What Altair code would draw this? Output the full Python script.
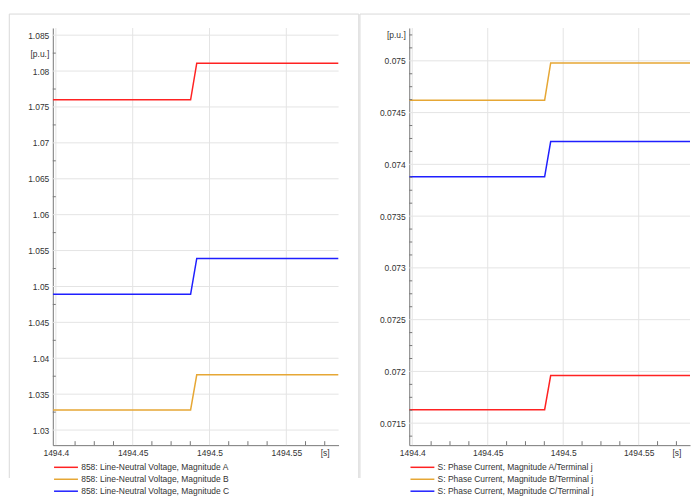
import altair as alt
import pandas as pd

# ---- data ----
time = [1494.398, 1494.4877, 1494.4917, 1494.584]

left_names = [
    "858: Line-Neutral Voltage, Magnitude A",
    "858: Line-Neutral Voltage, Magnitude B",
    "858: Line-Neutral Voltage, Magnitude C",
]
left_A = [1.0760, 1.0760, 1.0811, 1.0811]
left_B = [1.0328, 1.0328, 1.0377, 1.0377]
left_C = [1.0489, 1.0489, 1.0539, 1.0539]

right_names = [
    "S: Phase Current, Magnitude A/Terminal j",
    "S: Phase Current, Magnitude B/Terminal j",
    "S: Phase Current, Magnitude C/Terminal j",
]
right_A = [0.07163, 0.07163, 0.07196, 0.07196]
right_B = [0.07462, 0.07462, 0.07498, 0.07498]
right_C = [0.07388, 0.07388, 0.07422, 0.07422]

colors = ["#ff2222", "#e6a735", "#1f1fff"]

# axes
x_domain = [1494.398, 1494.584]
x_major = [1494.4, 1494.45, 1494.5, 1494.55]
x_unit = 1494.575
x_minor = [1494.4125, 1494.425, 1494.4375, 1494.4625, 1494.475, 1494.4875,
           1494.5125, 1494.525, 1494.5375, 1494.5625, 1494.575]

left_domain = [1.0279, 1.086]
left_major = [1.03, 1.035, 1.04, 1.045, 1.05, 1.055, 1.06, 1.065, 1.07, 1.075, 1.08, 1.085]
left_unit = 1.0825
left_minor = [1.0325, 1.0375, 1.0425, 1.0475, 1.0525, 1.0575, 1.0625, 1.0675,
              1.0725, 1.0775, 1.0825]

right_domain = [0.071288, 0.075317]
right_major = [0.0715, 0.072, 0.0725, 0.073, 0.0735, 0.074, 0.0745, 0.075]
right_unit = 0.07525
right_minor = [round(m + k * 0.000125, 7) for m in [0.071] + right_major for k in (1, 2, 3)]
right_minor = [v for v in right_minor if right_domain[0] <= v <= right_domain[1]]

FONT = "Liberation Sans"
AXIS_COLOR = "#777777"
GRID_COLOR = "#e4e4e4"
FRAME_COLOR = "#d9d9d9"
H = 419


def panel(names, series, y_domain, y_major, y_unit, y_minor, y_fmt, width,
          frame_l, frame_r, draw_right_edge):
    rows = []
    for name, vals in zip(names, series):
        for t, v in zip(time, vals):
            rows.append({"t": t, "v": v, "s": name})
    df = pd.DataFrame(rows)

    xs = alt.Scale(domain=x_domain, nice=False, zero=False)
    ys = alt.Scale(domain=y_domain, nice=False, zero=False)

    x_axis = alt.Axis(
        values=x_major + [x_unit], title=None, ticks=False, grid=False,
        labelExpr=f"abs(datum.value-{x_unit})<1e-7 ? '[s]' : format(datum.value, '.2~f')",
        labelFlush=False, labelOverlap=False, labelPadding=3,
    )
    y_axis = alt.Axis(
        values=y_major + [y_unit], title=None, ticks=False, grid=False,
        labelExpr=f"abs(datum.value-{y_unit})<1e-9 ? '[p.u.]' : format(datum.value, '{y_fmt}')",
        labelFlush=False, labelOverlap=False, labelPadding=4,
    )

    def X(field):
        return alt.X(field, type="quantitative", scale=xs, axis=x_axis)

    def Y(field):
        return alt.Y(field, type="quantitative", scale=ys, axis=y_axis)

    xgrid = alt.Chart(pd.DataFrame({"t": x_major})).mark_rule(color=GRID_COLOR).encode(
        x=X("t"), y=alt.value(0), y2=alt.value(H)
    )
    ygrid = alt.Chart(pd.DataFrame({"v": y_major})).mark_rule(color=GRID_COLOR).encode(
        y=Y("v"), x=alt.value(0), x2=alt.value(width)
    )

    lines = alt.Chart(df).mark_line(strokeWidth=1.5, clip=True).encode(
        x=X("t"),
        y=Y("v"),
        color=alt.Color(
            "s:N",
            scale=alt.Scale(domain=names, range=colors),
            legend=alt.Legend(
                title=None, orient="none", legendX=9, legendY=437,
                direction="vertical", symbolType="M-4,0H4", symbolSize=36,
                symbolStrokeWidth=1.5, labelOffset=11, rowPadding=3, padding=0,
                labelFont=FONT, labelFontSize=8.5, labelColor="#333333",
                labelLimit=400,
            ),
        ),
    )

    ytick = alt.Chart(pd.DataFrame({"v": y_minor})).mark_rule(color=AXIS_COLOR).encode(
        y=Y("v"), x=alt.value(0), x2=alt.value(3),
    )
    xtick = alt.Chart(pd.DataFrame({"t": x_minor})).mark_rule(color=AXIS_COLOR).encode(
        x=X("t"), y=alt.value(H), y2=alt.value(H - 4),
    )

    one = pd.DataFrame({"k": [0]})
    frame_top = alt.Chart(one).mark_rule(color=FRAME_COLOR).encode(
        x=alt.value(frame_l), x2=alt.value(frame_r), y=alt.value(-14)
    )
    frame_left = alt.Chart(one).mark_rule(color=FRAME_COLOR).encode(
        x=alt.value(frame_l), y=alt.value(-14), y2=alt.value(452)
    )
    layers = [frame_top, frame_left]
    if draw_right_edge:
        layers.append(alt.Chart(one).mark_rule(color=FRAME_COLOR).encode(
            x=alt.value(frame_r), y=alt.value(-14), y2=alt.value(452)
        ))
    layers += [xgrid, ygrid, lines, ytick, xtick]
    return alt.layer(*layers).properties(width=width, height=H)


left = panel(left_names, [left_A, left_B, left_C], left_domain, left_major,
             left_unit, left_minor, ".3~f", 287, -43.7, 307.3, True)
right = panel(right_names, [right_A, right_B, right_C], right_domain, right_major,
              right_unit, right_minor, ".4~f", 282, -49.5, 282, False)

chart = (
    alt.hconcat(left, right, spacing=0)
    .resolve_scale(color="independent")
    .properties(padding={"left": 0, "top": 4, "right": 0, "bottom": 0}, background="white")
    .configure_view(stroke=None)
    .configure_axis(
        labelFont=FONT, labelFontSize=8.5, labelColor="#333333",
        domainColor=AXIS_COLOR,
    )
)

chart.save("out.html", embed_options={"renderer": "svg", "actions": False})
